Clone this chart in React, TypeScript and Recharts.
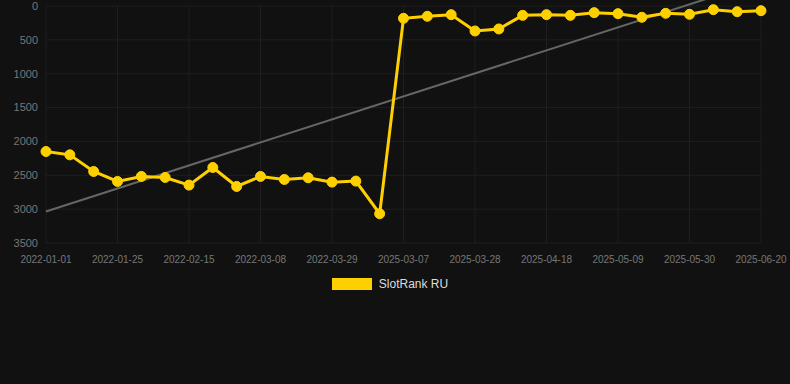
import React from 'react';
import { LineChart, Line, XAxis, YAxis, CartesianGrid, Legend, ReferenceLine } from 'recharts';

const dates = [
  '2022-01-01', '2022-01-11', '2022-01-18', '2022-01-25', '2022-02-01', '2022-02-08',
  '2022-02-15', '2022-02-22', '2022-03-01', '2022-03-08', '2022-03-15', '2022-03-22',
  '2022-03-29', '2022-04-05', '2022-04-12', '2025-03-07', '2025-03-14', '2025-03-21',
  '2025-03-28', '2025-04-04', '2025-04-11', '2025-04-18', '2025-04-25', '2025-05-02',
  '2025-05-09', '2025-05-16', '2025-05-23', '2025-05-30', '2025-06-06', '2025-06-13',
  '2025-06-20',
];

const ranks = [
  2149, 2198, 2444, 2591, 2517, 2532, 2645, 2385, 2665, 2517, 2562, 2537, 2601, 2586, 3068,
  182, 152, 128, 369, 339, 138, 128, 138, 98, 113, 167, 108, 123, 54, 84, 69,
];

const yTicks = [0, 500, 1000, 1500, 2000, 2500, 3000, 3500];
const trendStart = 3034;
const trendEnd = -364;

const seriesName = 'SlotRank RU';

const data = dates.map((d, i) => ({ date: d, rank: ranks[i] }));

const LegendContent = () => (
  <div style={{ height: 24, display: 'flex', alignItems: 'center', justifyContent: 'center', paddingLeft: 19 }}>
    <div style={{ width: 40, height: 12, background: '#FFD000', marginRight: 7 }} />
    <span style={{ color: '#dddddd', fontSize: 12, fontFamily: 'Arial, "Liberation Sans", sans-serif' }}>
      {seriesName}
    </span>
  </div>
);

export default function App() {
  return (
    <div style={{ position: 'absolute', left: 0, top: 0, width: 790, height: 384, background: '#111111' }}>
      <LineChart width={790} height={300} data={data} margin={{ top: 6, right: 29, bottom: 4, left: 0 }}>
        <CartesianGrid stroke="#1f1f1f" strokeWidth={1} />
        <XAxis
          dataKey="date"
          interval={2}
          tickLine={false}
          axisLine={false}
          height={29}
          tickMargin={7}
          tick={{ fill: '#777777', fontSize: 10, fontFamily: 'Arial, "Liberation Sans", sans-serif' }}
        />
        <YAxis
          reversed
          domain={[0, 3500]}
          ticks={yTicks}
          width={46}
          tickLine={false}
          axisLine={false}
          interval={0}
          tick={{ fill: '#777777', fontSize: 11, fontFamily: 'Arial, "Liberation Sans", sans-serif' }}
        />
        <ReferenceLine
          segment={[{ x: dates[0], y: trendStart }, { x: dates[dates.length - 1], y: trendEnd }]}
          stroke="#666666"
          strokeWidth={2}
          ifOverflow="visible"
        />
        <Line
          dataKey="rank"
          name={seriesName}
          stroke="#FFD000"
          strokeWidth={3}
          dot={{ r: 5, fill: '#FFD000', stroke: '#FFD000', strokeWidth: 1 }}
          activeDot={false}
          isAnimationActive={false}
        />
        <Legend verticalAlign="bottom" content={<LegendContent />} />
      </LineChart>
    </div>
  );
}
